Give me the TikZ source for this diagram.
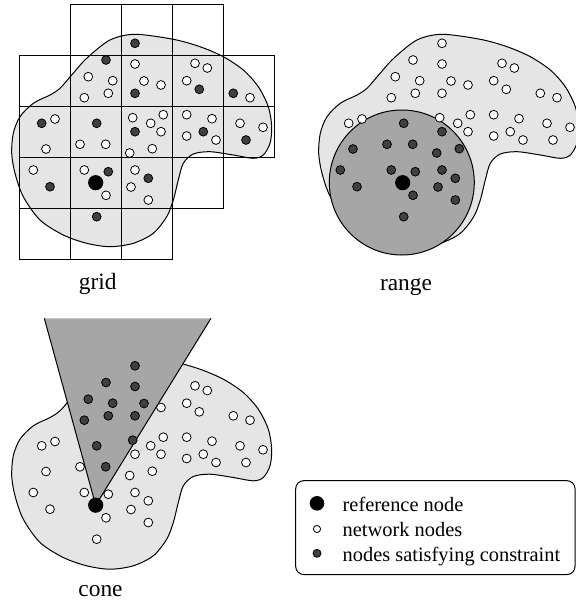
\documentclass[tikz,border=0pt]{standalone}
\usepackage{fontspec}
\setmainfont{Liberation Serif}
\usepackage{tikz}
\usetikzlibrary{shapes}
\tikzstyle{netnode}=[circle,draw=black,fill=white,line width=0.4pt,inner sep=0pt,minimum size=4.4pt]
\tikzstyle{satnode}=[circle,draw=black,fill=black!75,line width=0.4pt,inner sep=0pt,minimum size=4.4pt]
\tikzstyle{refnode}=[circle,fill=black,inner sep=0pt,minimum size=7.6pt]
\tikzstyle{region}=[draw=black,fill=black!10,line width=0.5pt]
\tikzstyle{query}=[fill=black!35]
\tikzstyle{caption}=[anchor=base,inner sep=0pt,font=\fontsize{11.7}{14}\selectfont]
\tikzstyle{keytext}=[anchor=base west,inner sep=0pt,font=\fontsize{10.2}{12}\selectfont]

\begin{document}
\begin{tikzpicture}[x=0.5pt,y=-0.5pt]
%\draw[help lines] (0,0) grid (576,605);
\useasboundingbox (0,0) rectangle (576,605);
% the deployment area, once per panel
\foreach \dx/\dy in {0/0,307/0,0/322.5}
\draw[region,shift={(\dx,\dy)}] plot[smooth cycle] coordinates {(135,34.3) (173.3,39.3) (200,46.7) (223.3,56.7) (243.3,70) (258.3,86.7) (268.3,106.7) (271.7,126.7) (270,143.3) (263.3,155) (253.3,158.3) (233.3,155) (210,151.7) (193.3,154) (183.3,163.3) (178.3,180) (173.3,200) (166.7,216.7) (153.3,233.3) (133.3,243.3) (110,246.7) (86.7,243.3) (63.3,235) (40,220) (23.3,196.7) (15,173.3) (11.7,153.3) (13.3,133.3) (20,116.7) (33.3,103.3) (50,95) (60,88.3) (71.7,75) (86.7,58.3) (110,40)};

% grid cells, row/first column/last column
\foreach \r/\a/\b in {0/1/3,1/0/4,2/0/4,3/0/3,4/0/2}
\foreach \c in {\a,...,\b}
\draw[line width=0.5pt] (19+51*\c,4.3+51*\r) rectangle ++(51,51);

% range disc
\draw[query,draw=black,line width=0.5pt] (401.8,182.5) circle[radius=36.25pt];

% cone, open at the top
\fill[query] (44.3,318.3) -- (211,318.3) -- (95.7,505.2) -- cycle;
\draw[line width=0.5pt] (44.3,318.3) -- (95.7,505.2) -- (211,318.3);

% grid panel
\foreach \x/\y [count=\i] in {135/64,195/63.3,207.3/68,88.3/76.7,112.7/80.7,144/81,161/85,186.7/80.7,84.3/97.7,108.3/93.3,250/97.7,55/119,132.7/117.7,163.3/114.7,150.7/123.3,186.7/114.7,212/118.7,240/123.3,263/127.3,161/131.7,186.7/136,216/140,46/149,80/144.3,105.7/144.3,152.3/148.7,129.7/153,33.3/170,84.3/170,135/170,131/187,106/195.3,148.3/200}
\node[netnode] (gn\i) at (\x,\y) {};
\foreach \x/\y [count=\i] in {135/43.3,106/60,135/93.3,199.3/89.3,233.3/93.3,41.7/123.3,96.7/123.3,135/131.7,203.3/131.7,246/140,108.3/171.7,148.3/178.3,50/186.7,96.7/216.7}
\node[satnode] (gs\i) at (\x,\y) {};
\node[refnode] (gref) at (95.7,182.7) {};

% range panel
\begin{scope}[shift={(307,0)}]
\foreach \x/\y [count=\i] in {135/64,195/63.3,207.3/68,88.3/76.7,112.7/80.7,144/81,161/85,186.7/80.7,84.3/97.7,108.3/93.3,250/97.7,55/119,132.7/117.7,163.3/114.7,150.7/123.3,186.7/114.7,212/118.7,240/123.3,263/127.3,161/131.7,186.7/136,216/140,135/43.3,106/60,135/93.3,199.3/89.3,233.3/93.3,41.7/123.3,203.3/131.7,246/140}
\node[netnode] (rn\i) at (\x,\y) {};
\foreach \x/\y [count=\i] in {46/149,80/144.3,105.7/144.3,152.3/148.7,129.7/153,33.3/170,84.3/170,135/170,131/187,106/195.3,148.3/200,96.7/123.3,135/131.7,108.3/171.7,148.3/178.3,50/186.7,96.7/216.7}
\node[satnode] (rs\i) at (\x,\y) {};
\node[refnode] (rref) at (95.7,182.7) {};
\end{scope}

% cone panel
\begin{scope}[shift={(0,322.5)}]
\foreach \x/\y [count=\i] in {195/63.3,207.3/68,161/85,186.7/80.7,250/97.7,55/119,163.3/114.7,150.7/123.3,186.7/114.7,212/118.7,240/123.3,263/127.3,161/131.7,186.7/136,216/140,46/149,80/144.3,152.3/148.7,129.7/153,33.3/170,84.3/170,135/170,131/187,106/195.3,148.3/200,199.3/89.3,233.3/93.3,41.7/123.3,135/131.7,203.3/131.7,246/140,108.3/171.7,148.3/178.3,50/186.7,96.7/216.7}
\node[netnode] (cn\i) at (\x,\y) {};
\foreach \x/\y [count=\i] in {135/64,88.3/76.7,112.7/80.7,144/81,84.3/97.7,108.3/93.3,132.7/117.7,105.7/144.3,135/43.3,106/60,135/93.3,96.7/123.3}
\node[satnode] (cs\i) at (\x,\y) {};
\node[refnode] (cref) at (95.7,182.7) {};
\end{scope}

\node[caption] (gridlabel) at (97.7,289.3) {grid};
\node[caption] (rangelabel) at (406,290.7) {range};
\node[caption] (conelabel) at (100.5,596.7) {cone};

% legend
\draw[line width=0.5pt,rounded corners=4pt] (295.7,480.7) rectangle (575,574.5);
\node[refnode,minimum size=7.3pt] (keyref) at (317,503.3) {};
\node[netnode,minimum size=3.6pt] (keynet) at (317,529) {};
\node[satnode,minimum size=4pt] (keysat) at (317,553.3) {};
\node[keytext] (keyreftext) at (342.3,511.2) {reference node};
\node[keytext] (keynettext) at (342.3,536) {network nodes};
\node[keytext] (keysattext) at (342.3,561) {nodes satisfying constraint};
\end{tikzpicture}
\end{document}
